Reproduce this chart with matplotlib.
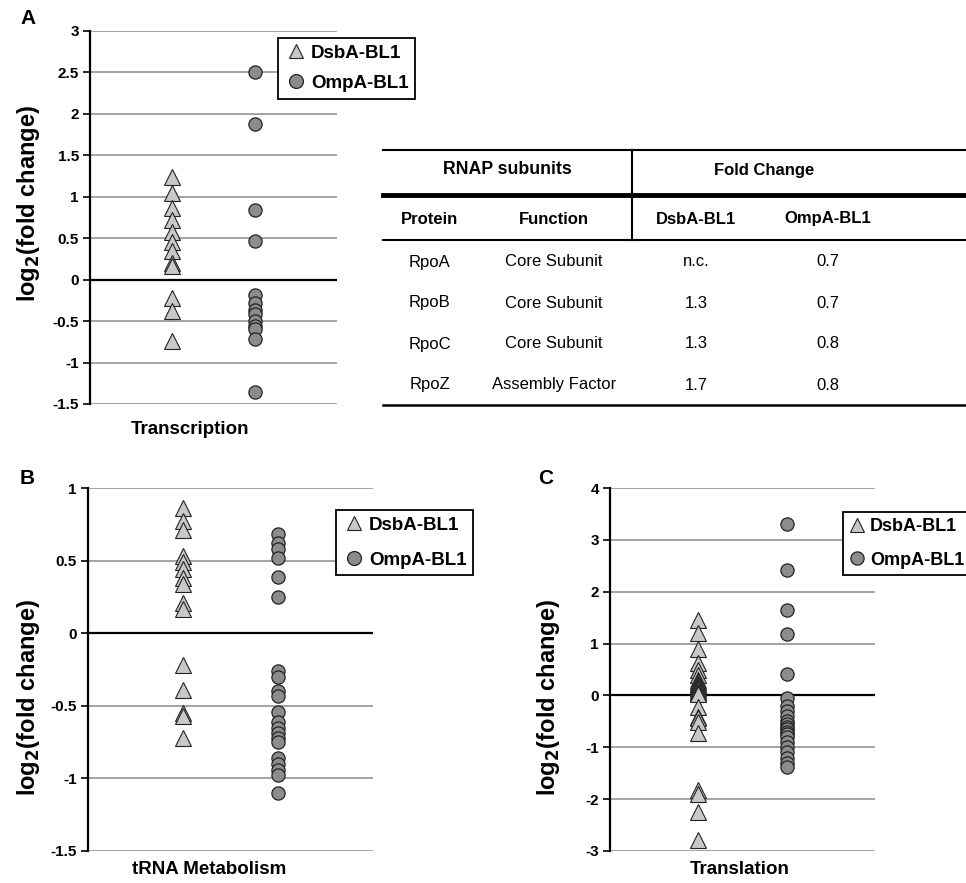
import matplotlib
matplotlib.use("Agg")
import matplotlib.pyplot as plt
from matplotlib.lines import Line2D

plt.rcParams['font.family'] = ['Liberation Sans', 'DejaVu Sans']

# ---------------- data ----------------
series_names = ["DsbA-BL1", "OmpA-BL1"]

transcription_dsba = [1.24, 1.04, 0.86, 0.72, 0.57, 0.46, 0.34, 0.20, 0.16, -0.22, -0.38, -0.74]
transcription_ompa = [2.51, 1.88, 0.84, 0.47, -0.19, -0.28, -0.36, -0.42, -0.50, -0.56, -0.60, -0.72, -1.36]

trna_dsba = [0.86, 0.77, 0.71, 0.53, 0.49, 0.44, 0.38, 0.34, 0.21, 0.17,
             -0.22, -0.39, -0.55, -0.57, -0.72]
trna_ompa = [0.68, 0.62, 0.58, 0.52, 0.39, 0.25,
             -0.26, -0.30, -0.40, -0.43, -0.54, -0.61, -0.65, -0.69, -0.72, -0.75,
             -0.86, -0.90, -0.94, -0.98, -1.10]

translation_dsba = [1.45, 1.20, 0.89, 0.62, 0.49, 0.39, 0.30, 0.25, 0.22, 0.20, 0.17, 0.14,
                    0.10, 0.07, 0.04, 0.02, -0.22, -0.41, -0.44, -0.51, -0.72,
                    -1.82, -1.90, -2.24, -2.79]
translation_ompa = [3.30, 2.42, 1.64, 1.18, 0.42, -0.05, -0.20, -0.30, -0.40, -0.50, -0.55,
                    -0.60, -0.65, -0.70, -0.75, -0.80, -0.90, -1.00, -1.10, -1.20, -1.30, -1.38]

table_groups = ["RNAP subunits", "Fold Change"]
table_cols = ["Protein", "Function", "DsbA-BL1", "OmpA-BL1"]
table_protein = ["RpoA", "RpoB", "RpoC", "RpoZ"]
table_function = ["Core Subunit", "Core Subunit", "Core Subunit", "Assembly Factor"]
table_dsba = ["n.c.", "1.3", "1.3", "1.7"]
table_ompa = ["0.7", "0.7", "0.8", "0.8"]

# ---------------- figure ----------------
W, H = 966, 883
fig = plt.figure(figsize=(W / 100, H / 100), dpi=100)


def px_axes(x0, y0, x1, y1):
    return fig.add_axes([x0 / W, 1 - y1 / H, (x1 - x0) / W, (y1 - y0) / H])


TRI_FACE = "#c8c8c8"
CIR_FACE = "#8c8c8c"
EDGE = "#222222"


def panel(box, d1, d2, ylim, yticks, ticklabels, legend_pos, spacing,
          hlen=1.2, hpad=0.2, lfs=13.5, lms=10):
    ax = px_axes(*box)
    ax.set_xlim(0, 3)
    ax.set_ylim(*ylim)
    for y in yticks:
        if y == 0:
            ax.axhline(0, color="black", lw=1.6, zorder=1)
        else:
            ax.axhline(y, color="#8a8a8a", lw=1.1, zorder=1)
    ax.plot([1] * len(d1), d1, ls="none", marker="^", ms=11, mfc=TRI_FACE,
            mec=EDGE, mew=0.8, zorder=3)
    ax.plot([2] * len(d2), d2, ls="none", marker="o", ms=9.5, mfc=CIR_FACE,
            mec=EDGE, mew=0.9, zorder=3)
    for s in ["top", "right", "bottom"]:
        ax.spines[s].set_visible(False)
    ax.spines["left"].set_linewidth(1.6)
    ax.set_xticks([])
    ax.set_yticks(yticks)
    ax.set_yticklabels(ticklabels, fontsize=11, fontweight="bold")
    ax.tick_params(axis="y", length=5, width=1.2, pad=3)
    ax.set_facecolor("none")
    handles = [
        Line2D([], [], ls="none", marker="^", ms=lms, mfc=TRI_FACE, mec=EDGE, mew=0.8),
        Line2D([], [], ls="none", marker="o", ms=lms, mfc=CIR_FACE, mec=EDGE, mew=0.9),
    ]
    leg = fig.legend(handles, series_names, loc="upper left",
                     bbox_to_anchor=(legend_pos[0] / W, 1 - legend_pos[1] / H),
                     prop={"weight": "bold", "size": lfs}, frameon=True,
                     fancybox=False, edgecolor="black", framealpha=1,
                     handletextpad=hpad, handlelength=hlen, borderpad=0.35,
                     labelspacing=spacing, borderaxespad=0)
    leg.get_frame().set_linewidth(1.3)
    return ax


def fmt(v):
    return "%g" % v


ya = [3, 2.5, 2, 1.5, 1, 0.5, 0, -0.5, -1, -1.5]
panel((90, 31, 337, 404), transcription_dsba, transcription_ompa, (-1.5, 3), ya,
      [fmt(v) for v in ya], (278, 38), 0.7)

yb = [1, 0.5, 0, -0.5, -1, -1.5]
panel((88, 488, 373, 851), trna_dsba, trna_ompa, (-1.5, 1), yb,
      [fmt(v) for v in yb], (336, 510), 0.95)

yc = [4, 3, 2, 1, 0, -1, -2, -3]
panel((610, 488, 875, 851), translation_dsba, translation_ompa, (-3, 4), yc,
      [fmt(v) for v in yc], (843, 512), 0.9, hlen=0.85, hpad=0.3, lfs=13, lms=9.5)

# axis labels
ylab = "log$_\\mathbf{2}$(fold change)"
for (x, y) in [(29, 203), (29, 697), (549, 697)]:
    fig.text(x / W, 1 - y / H, ylab, rotation=90, ha="center", va="center",
             fontsize=17, fontweight="bold")
for (x, y, t) in [(190, 429, "Transcription"), (209, 870, "tRNA Metabolism"),
                  (740, 870, "Translation")]:
    fig.text(x / W, 1 - y / H, t, ha="center", va="center", fontsize=13.5,
             fontweight="bold")

# panel letters
for (x, y, t) in [(20, 18, "A"), (20, 478, "B"), (538, 478, "C")]:
    fig.text(x / W, 1 - y / H, t, ha="left", va="center", fontsize=15,
             fontweight="bold")

# ---------------- table ----------------
tax = px_axes(0, 0, W, H)
tax.set_xlim(0, W)
tax.set_ylim(H, 0)
tax.axis("off")
tax.patch.set_alpha(0)
tax.plot([383, 966], [150, 150], color="black", lw=1.5)
tax.plot([383, 966], [195, 195], color="black", lw=3.5)
tax.plot([383, 966], [240, 240], color="black", lw=1.5)
tax.plot([383, 966], [405, 405], color="black", lw=1.8)
tax.plot([632, 632], [150, 240], color="black", lw=1.5)

tax.text(507, 170, table_groups[0], ha="center", va="center", fontsize=12.8, fontweight="bold")
tax.text(764, 170, table_groups[1], ha="center", va="center", fontsize=12, fontweight="bold")
col_x = [430, 554, 696, 828]
for cx, c in zip(col_x, table_cols):
    tax.text(cx, 219, c, ha="center", va="center", fontsize=12, fontweight="bold")
row_y = [262, 303, 344, 385]
for i, ry in enumerate(row_y):
    for cx, v in zip(col_x, [table_protein[i], table_function[i], table_dsba[i], table_ompa[i]]):
        tax.text(cx, ry, v, ha="center", va="center", fontsize=12)

fig.savefig("out.png", dpi=100)
